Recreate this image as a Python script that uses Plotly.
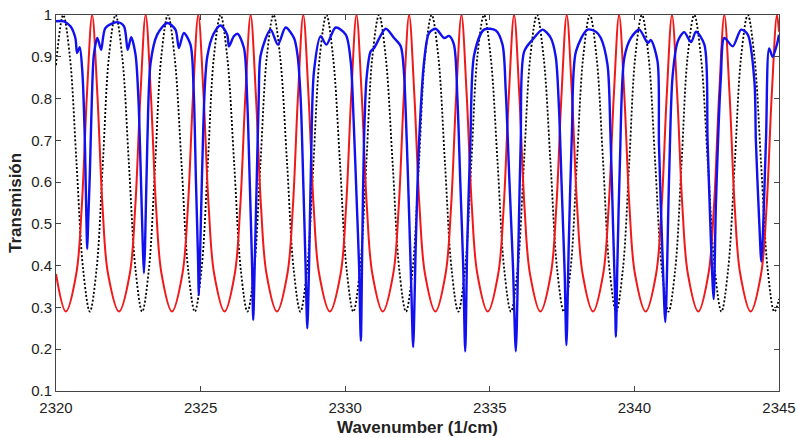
import plotly.graph_objects as go

# ---- tick labels ----
x_ticks = [2320, 2325, 2330, 2335, 2340, 2345]
y_ticks = [0.1, 0.2, 0.3, 0.4, 0.5, 0.6, 0.7, 0.8, 0.9, 1.0]
y_tick_text = ["0.1", "0.2", "0.3", "0.4", "0.5", "0.6", "0.7", "0.8", "0.9", "1"]
x_title = "Wavenumber (1/cm)"
y_title = "Transmisión"

# ---- red curve ----
red_x = [2320.00, 2320.34, 2320.70, 2320.89, 2321.07,
         2321.25, 2321.43, 2321.61, 2321.80, 2322.18, 2322.55, 2322.74, 2322.92,
         2323.10, 2323.28, 2323.46, 2323.65, 2324.01, 2324.37, 2324.56, 2324.74,
         2324.92, 2325.10, 2325.28, 2325.47, 2325.83, 2326.18, 2326.37, 2326.55,
         2326.73, 2326.91, 2327.09, 2327.28, 2327.64, 2328.00, 2328.19, 2328.37,
         2328.55, 2328.73, 2328.91, 2329.10, 2329.47, 2329.84, 2330.03, 2330.21,
         2330.39, 2330.57, 2330.75, 2330.94, 2331.30, 2331.66, 2331.85, 2332.03,
         2332.21, 2332.39, 2332.57, 2332.76, 2333.12, 2333.47, 2333.66, 2333.84,
         2334.02, 2334.20, 2334.38, 2334.57, 2334.93, 2335.29, 2335.48, 2335.66,
         2335.84, 2336.02, 2336.20, 2336.39, 2336.75, 2337.11, 2337.30, 2337.48,
         2337.66, 2337.84, 2338.02, 2338.21, 2338.57, 2338.92, 2339.11, 2339.29,
         2339.47, 2339.65, 2339.83, 2340.02, 2340.39, 2340.75, 2340.94, 2341.12,
         2341.30, 2341.48, 2341.66, 2341.85, 2342.21, 2342.56, 2342.75, 2342.93,
         2343.11, 2343.29, 2343.47, 2343.66, 2344.02, 2344.38, 2344.57, 2344.75,
         2344.93, 2345.00]
red_y = [0.38, 0.29, 0.38, 0.54, 0.81,
         1.0, 0.81, 0.54, 0.38, 0.29, 0.38, 0.54, 0.81,
         1.0, 0.81, 0.54, 0.38, 0.29, 0.38, 0.54, 0.81,
         1.0, 0.81, 0.54, 0.38, 0.29, 0.38, 0.54, 0.81,
         1.0, 0.81, 0.54, 0.38, 0.29, 0.38, 0.54, 0.81,
         1.0, 0.81, 0.54, 0.38, 0.29, 0.38, 0.54, 0.81,
         1.0, 0.81, 0.54, 0.38, 0.29, 0.38, 0.54, 0.81,
         1.0, 0.81, 0.54, 0.38, 0.29, 0.38, 0.54, 0.81,
         1.0, 0.81, 0.54, 0.38, 0.29, 0.38, 0.54, 0.81,
         1.0, 0.81, 0.54, 0.38, 0.29, 0.38, 0.54, 0.81,
         1.0, 0.81, 0.54, 0.38, 0.29, 0.38, 0.54, 0.81,
         1.0, 0.81, 0.54, 0.38, 0.29, 0.38, 0.54, 0.81,
         1.0, 0.81, 0.54, 0.38, 0.29, 0.38, 0.54, 0.81,
         1.0, 0.81, 0.54, 0.38, 0.29, 0.38, 0.54, 0.81,
         1.0, 0.96]

# ---- black dotted curve ----
black_x = [2320.00,
           2320.25, 2320.48, 2320.71, 2320.94, 2321.17, 2321.40, 2321.62, 2321.83,
           2322.06, 2322.29, 2322.52, 2322.75, 2322.98, 2323.21, 2323.43, 2323.64,
           2323.87, 2324.10, 2324.34, 2324.57, 2324.80, 2325.03, 2325.25, 2325.46,
           2325.69, 2325.92, 2326.16, 2326.39, 2326.62, 2326.85, 2327.07, 2327.29,
           2327.52, 2327.75, 2327.99, 2328.22, 2328.45, 2328.68, 2328.90, 2329.12,
           2329.35, 2329.58, 2329.82, 2330.05, 2330.28, 2330.51, 2330.73, 2330.94,
           2331.17, 2331.40, 2331.64, 2331.87, 2332.10, 2332.33, 2332.55, 2332.76,
           2332.99, 2333.22, 2333.45, 2333.68, 2333.91, 2334.14, 2334.36, 2334.57,
           2334.80, 2335.03, 2335.27, 2335.50, 2335.73, 2335.96, 2336.18, 2336.40,
           2336.63, 2336.86, 2337.10, 2337.33, 2337.56, 2337.79, 2338.01, 2338.23,
           2338.46, 2338.69, 2338.92, 2339.14, 2339.37, 2339.60, 2339.82, 2340.03,
           2340.26, 2340.49, 2340.72, 2340.95, 2341.18, 2341.41, 2341.63, 2341.84,
           2342.07, 2342.30, 2342.54, 2342.78, 2343.01, 2343.24, 2343.47, 2343.69,
           2343.92, 2344.15, 2344.38, 2344.61, 2344.84, 2345.00]
black_y = [0.88,
           1.0, 0.90, 0.645, 0.39, 0.29, 0.39, 0.645, 0.90,
           1.0, 0.90, 0.645, 0.39, 0.29, 0.39, 0.645, 0.90,
           1.0, 0.90, 0.645, 0.39, 0.29, 0.39, 0.645, 0.90,
           1.0, 0.90, 0.645, 0.39, 0.29, 0.39, 0.645, 0.90,
           1.0, 0.90, 0.645, 0.39, 0.29, 0.39, 0.645, 0.90,
           1.0, 0.90, 0.645, 0.39, 0.29, 0.39, 0.645, 0.90,
           1.0, 0.90, 0.645, 0.39, 0.29, 0.39, 0.645, 0.90,
           1.0, 0.90, 0.645, 0.39, 0.29, 0.39, 0.645, 0.90,
           1.0, 0.90, 0.645, 0.39, 0.29, 0.39, 0.645, 0.90,
           1.0, 0.90, 0.645, 0.39, 0.29, 0.39, 0.645, 0.90,
           1.0, 0.90, 0.645, 0.39, 0.29, 0.39, 0.645, 0.90,
           1.0, 0.90, 0.645, 0.39, 0.29, 0.39, 0.645, 0.90,
           1.0, 0.90, 0.645, 0.39, 0.29, 0.39, 0.645, 0.90,
           1.0, 0.90, 0.645, 0.39, 0.29, 0.32]

# ---- blue curve ----
blue_x = [2320.00, 2320.27, 2320.50, 2320.67, 2320.73, 2320.82, 2320.91, 2320.99, 2321.04,
          2321.08, 2321.11, 2321.17, 2321.24, 2321.31, 2321.43, 2321.56, 2321.71, 2322.12,
          2322.35, 2322.48, 2322.60, 2322.75, 2322.85, 2322.94, 2323.00,
          2323.04, 2323.08, 2323.16, 2323.27, 2323.50, 2323.85, 2324.13, 2324.25, 2324.42,
          2324.65, 2324.76, 2324.84, 2324.91,
          2324.94, 2324.98, 2325.05, 2325.14, 2325.23, 2325.45, 2325.69, 2325.92, 2325.98,
          2326.15, 2326.28, 2326.50, 2326.61, 2326.70, 2326.78,
          2326.82, 2326.87, 2326.94, 2327.01, 2327.08, 2327.42, 2327.67, 2327.94, 2328.23,
          2328.35, 2328.46, 2328.55, 2328.63,
          2328.69, 2328.75, 2328.82, 2328.92, 2329.15, 2329.35, 2329.67, 2330.02, 2330.19,
          2330.29, 2330.40, 2330.48,
          2330.54, 2330.59, 2330.65, 2330.74, 2330.88, 2331.00, 2331.40, 2331.69, 2331.92,
          2332.03, 2332.09, 2332.17, 2332.24, 2332.29,
          2332.35, 2332.44, 2332.55, 2332.73, 2332.90, 2333.13, 2333.42, 2333.59, 2333.76,
          2333.88, 2333.98, 2334.08,
          2334.15, 2334.22, 2334.33, 2334.46, 2334.80, 2335.21, 2335.44, 2335.55, 2335.68,
          2335.80,
          2335.90, 2335.99, 2336.07, 2336.19, 2336.53, 2336.82, 2337.11, 2337.28, 2337.39,
          2337.49, 2337.59,
          2337.65, 2337.73, 2337.84, 2337.98, 2338.38, 2338.67, 2338.84, 2339.07, 2339.17,
          2339.26, 2339.33,
          2339.36, 2339.41, 2339.50, 2339.65, 2339.88, 2340.17, 2340.46, 2340.57, 2340.80,
          2340.85, 2340.98,
          2341.07, 2341.20, 2341.32, 2341.50, 2341.72, 2341.96, 2342.13, 2342.42, 2342.53,
          2342.65,
          2342.74, 2342.82, 2342.99, 2343.11, 2343.40, 2343.69, 2343.92, 2344.15, 2344.20,
          2344.32,
          2344.39, 2344.55, 2344.66, 2344.78, 2344.93, 2345.00]
blue_y = [0.985, 0.985, 0.973, 0.945, 0.909, 0.923, 0.865, 0.72, 0.55,
          0.44, 0.50, 0.62, 0.80, 0.905, 0.945, 0.917, 0.969, 0.983,
          0.973, 0.917, 0.947, 0.905, 0.80, 0.60, 0.45,
          0.382, 0.45, 0.70, 0.885, 0.953, 0.981, 0.965, 0.921, 0.957,
          0.929, 0.82, 0.60, 0.42,
          0.33, 0.42, 0.62, 0.82, 0.90, 0.955, 0.975, 0.953, 0.925,
          0.949, 0.955, 0.921, 0.80, 0.60, 0.40,
          0.27, 0.40, 0.60, 0.80, 0.905, 0.965, 0.929, 0.97, 0.945,
          0.905, 0.80, 0.60, 0.40,
          0.25, 0.40, 0.65, 0.865, 0.949, 0.929, 0.97, 0.953, 0.889,
          0.75, 0.55, 0.40,
          0.22, 0.45, 0.70, 0.85, 0.913, 0.921, 0.967, 0.945, 0.925,
          0.865, 0.773, 0.613, 0.454, 0.334,
          0.205, 0.45, 0.69, 0.89, 0.957, 0.967, 0.945, 0.95, 0.929,
          0.80, 0.60, 0.40,
          0.195, 0.45, 0.70, 0.905, 0.965, 0.963, 0.929, 0.82, 0.60,
          0.40,
          0.195, 0.45, 0.70, 0.913, 0.945, 0.965, 0.945, 0.90, 0.78,
          0.58, 0.38,
          0.21, 0.45, 0.72, 0.913, 0.965, 0.96, 0.945, 0.881, 0.72,
          0.50, 0.33,
          0.23, 0.40, 0.65, 0.897, 0.945, 0.965, 0.933, 0.94, 0.889,
          0.69, 0.41,
          0.265, 0.613, 0.853, 0.937, 0.959, 0.935, 0.96, 0.929, 0.70,
          0.45,
          0.32, 0.55, 0.85, 0.945, 0.925, 0.965, 0.953, 0.841, 0.70,
          0.50,
          0.41, 0.70, 0.92, 0.90, 0.93, 0.953]

FONT = "Liberation Sans, Arial, Helvetica, sans-serif"

fig = go.Figure()
fig.add_trace(go.Scatter(x=black_x, y=black_y, mode="lines",
                         line=dict(color="black", width=1.8, dash="2px,2px", shape="spline"),
                         showlegend=False))
fig.add_trace(go.Scatter(x=red_x, y=red_y, mode="lines",
                         line=dict(color="#f01818", width=2, shape="spline"),
                         showlegend=False))
fig.add_trace(go.Scatter(x=blue_x, y=blue_y, mode="lines",
                         line=dict(color="#1010f0", width=2.4, shape="spline", smoothing=0.8),
                         showlegend=False))

axis_common = dict(
    showgrid=False, zeroline=False, showline=True, linecolor="#444", linewidth=1,
    mirror="ticks", ticks="inside", ticklen=5, tickcolor="#444", automargin=False,
    tickfont=dict(family=FONT, size=15, color="#222"),
)

fig.update_layout(
    width=797, height=438,
    margin=dict(l=56, r=18, t=15, b=47),
    paper_bgcolor="white", plot_bgcolor="white",
    xaxis=dict(range=[2320, 2345], tickvals=x_ticks,
               ticktext=[str(v) for v in x_ticks], ticklabelstandoff=3,
               **axis_common),
    yaxis=dict(range=[0.1, 1.0], tickvals=y_ticks, ticktext=y_tick_text,
               **axis_common),
    annotations=[
        dict(text="<b>" + x_title + "</b>", xref="paper", yref="paper",
             x=0.5, y=0, xanchor="center", yanchor="middle", yshift=-36,
             showarrow=False, font=dict(family=FONT, size=17, color="#222")),
        dict(text="<b>" + y_title + "</b>", xref="paper", yref="paper",
             x=0, y=0.5, xanchor="center", yanchor="middle", xshift=-41,
             textangle=-90, showarrow=False,
             font=dict(family=FONT, size=17, color="#222")),
    ],
)

fig.write_html("out.html", config={"displayModeBar": False},
               post_script="document.body.style.margin='0';document.body.style.overflow='hidden';")
